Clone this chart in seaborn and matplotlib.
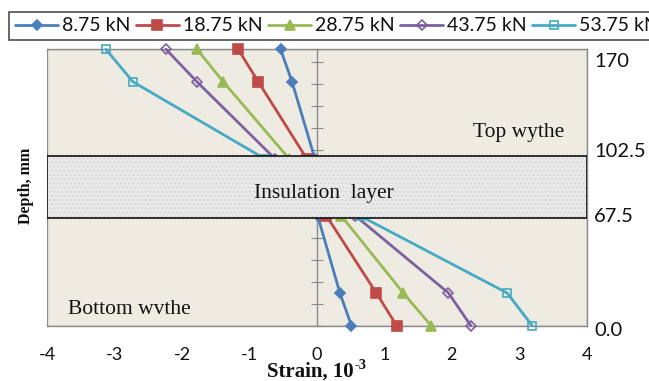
import matplotlib
matplotlib.use("Agg")
import matplotlib.pyplot as plt
from matplotlib.patches import Rectangle
import numpy as np
import pandas as pd
import seaborn as sns

# ---- data ----
loads = ["8.75 kN", "18.75 kN", "28.75 kN", "43.75 kN", "53.75 kN"]
depth = [170, 150, 102.5, 67.5, 20, 0]
strain_875 = [-0.54, -0.37, -0.03, 0.01, 0.34, 0.51]
strain_1875 = [-1.17, -0.87, -0.15, 0.14, 0.88, 1.18]
strain_2875 = [-1.78, -1.39, -0.41, 0.36, 1.28, 1.69]
strain_4375 = [-2.24, -1.78, -0.62, 0.57, 1.95, 2.28]
strain_5375 = [-3.13, -2.73, -0.77, 0.64, 2.82, 3.19]
series = [strain_875, strain_1875, strain_2875, strain_4375, strain_5375]
x_ticks = [-4, -3, -2, -1, 0, 1, 2, 3, 4]
right_labels = ["170", "102.5", "67.5", "0.0"]

colors = ["#4A7EBB", "#BE4B48", "#98B954", "#7D60A0", "#46AAC5"]
markers = ["D", "s", "^", "D", "s"]
msizes = [4.6, 6.8, 7.4, 5.0, 6.4]
filled = [True, True, True, False, False]

df = pd.concat([pd.DataFrame({"load": l, "depth": depth, "strain": s})
                for l, s in zip(loads, series)], ignore_index=True)

sns.set_theme(style="white")
plt.rcParams["font.family"] = ["Lato", "DejaVu Sans"]
plt.rcParams["hatch.linewidth"] = 0.6

fig = plt.figure(figsize=(6.49, 3.81), dpi=100)
ax = fig.add_axes([47.3 / 649, 1 - 325.5 / 381, (586.7 - 47.3) / 649, (325.5 - 49.3) / 381])
ax.set_facecolor("#EEECE2")

for l, c, m, ms, f in zip(loads, colors, markers, msizes, filled):
    sub = df[df["load"] == l]
    sns.lineplot(data=sub, x="strain", y="depth", sort=False, estimator=None,
                 ax=ax, color=c, linewidth=2.0, marker=m, markersize=ms,
                 markeredgecolor=c, markerfacecolor=c if f else "none",
                 markeredgewidth=1.2, label=l, clip_on=False, zorder=3)

ax.set_xlim(-4, 4)
ax.set_ylim(0, 170)

# insulation layer band
band_lo, band_hi = 66.0, 104.5
ax.add_patch(Rectangle((-4, band_lo), 8, band_hi - band_lo, facecolor="#E9E9E9",
                       edgecolor="#D0D0D0", hatch="....", linewidth=0, zorder=5))
ax.add_patch(Rectangle((-4, band_lo), 8, band_hi - band_lo, fill=False,
                       edgecolor="#111111", linewidth=1.2, zorder=6))

# axes styling: vertical axis at x=0
for s in ["top", "right", "bottom"]:
    ax.spines[s].set_color("#8A8A8A")
    ax.spines[s].set_linewidth(1.0)
ax.spines["left"].set_position(("data", 0))
ax.spines["left"].set_color("#8A8A8A")
ax.spines["left"].set_linewidth(1.0)
ax.spines["left"].set_zorder(2)
ax.add_patch(Rectangle((0, 0), 1, 1, transform=ax.transAxes, fill=False,
                       edgecolor="#8A8A8A", linewidth=1.0, zorder=1))
ax.set_yticks(np.arange(0, 171, 13.5))
ax.set_yticklabels([])
ax.tick_params(axis="y", direction="inout", length=8, width=0.8, color="#8A8A8A", left=True)
ax.set_xticks(x_ticks)
ax.set_xticklabels([str(t) for t in x_ticks])
ax.tick_params(axis="x", length=0, labelsize=13, pad=15.5, labelcolor="#111111")
ax.set_xlabel("")
ax.set_ylabel("")

# right-hand depth labels
for txt, yv in zip(right_labels, [162.5, 107.0, 67.0, -2.8]):
    ax.text(4.11, yv, txt, ha="left", va="center", fontsize=14.5,
            color="#111111", clip_on=False)

serif = ["Liberation Serif", "DejaVu Serif"]
ax.text(2.31, 116.2, "Top wythe", family=serif, fontsize=15.5, ha="left",
        va="baseline", color="#111111", zorder=7)
ax.text(0.10, 78.5, "Insulation  layer", family=serif, fontsize=15.5, ha="center",
        va="baseline", color="#111111", zorder=7)
ax.text(-3.69, 7.1, "Bottom wvthe", family=serif, fontsize=15.5, ha="left",
        va="baseline", color="#111111", zorder=7)

xl = fig.text(267 / 649, 4.5 / 381, "Strain, 10", family=serif,
              fontweight="bold", fontsize=15, ha="left", va="baseline", color="#111111")
fig.canvas.draw()
bb = xl.get_window_extent()
fig.text(bb.x1 / 649 + 0.5 / 649, (4.5 + 7.5) / 381, "-3", family=serif, fontweight="bold",
         fontsize=10.5, ha="left", va="baseline", color="#111111")
fig.text(25.5 / 649, 1 - 186 / 381, "Depth, mm", family=serif, fontweight="bold",
         fontsize=11.5, rotation=90, ha="center", va="center", color="#111111")

handles, labels_ = ax.get_legend_handles_labels()
if ax.get_legend() is not None:
    ax.get_legend().remove()
leg = fig.legend(handles, labels_, loc="upper left", bbox_to_anchor=(9.3 / 649, 1 - 11.5 / 381),
                 ncol=5, frameon=True, fontsize=14, handlelength=2.2, handletextpad=0.2,
                 columnspacing=0.3, borderpad=0.3, borderaxespad=0, fancybox=False)
leg.get_frame().set_edgecolor("#333333")
leg.get_frame().set_linewidth(1.3)
for t in leg.get_texts():
    t.set_color("#111111")

fig.savefig("out.png", dpi=100)
